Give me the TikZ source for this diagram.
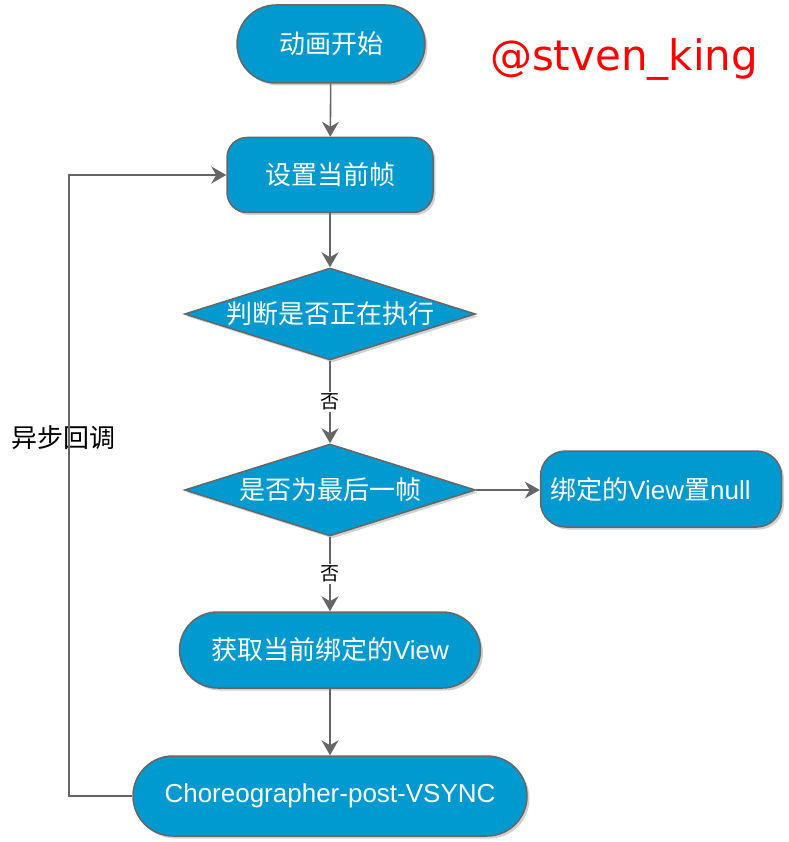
\documentclass[tikz,border=0pt]{standalone}
\usepackage{fontspec}
\setmainfont{Liberation Sans}
\newfontfamily\cjk{Noto Sans CJK SC}
\newfontfamily\wmfont{DejaVu Sans}
\usetikzlibrary{shapes.geometric,arrows.meta,shadows}
\definecolor{boxblue}{RGB}{0,153,208}
\definecolor{edgegray}{RGB}{102,102,102}
\tikzset{
  base/.style={draw=edgegray, line width=1.5pt, fill=boxblue, text=white,
    inner sep=0pt, font=\fontsize{26}{30}\selectfont,
    drop shadow={shadow xshift=2.5pt, shadow yshift=-2.5pt, opacity=0.18, fill=black}},
  stadium/.style={base, rectangle, rounded corners=#1},
  rbox/.style={base, rectangle, rounded corners=20pt},
  dia/.style={base, diamond},
  dtext/.style={text=white, inner sep=0pt, font=\fontsize{26}{30}\selectfont},
  arr/.style={draw=edgegray, line width=1.6pt, -{Stealth[length=15pt 0,width=17pt 0,inset=5pt 0]}},
  nolabel/.style={fill=white, text=black, inner sep=2pt, font=\cjk\fontsize{19}{22}\selectfont},
}
\begin{document}
\begin{tikzpicture}[x=1pt, y=-1pt]
\useasboundingbox (0,0) rectangle (788,842);
% nodes
\node[stadium=39pt, minimum width=188pt, minimum height=78pt] (n1) at (331,44) {\cjk 动画开始};
\node[rbox, minimum width=206pt, minimum height=75pt] (n2) at (330,175) {\cjk 设置当前帧};
\node[dia, minimum width=291pt, minimum height=92pt] (d1) at (330,314) {};
\node[dtext] (t1) at (d1.center) {\cjk 判断是否正在执行};
\node[dia, minimum width=291pt, minimum height=92pt] (d2) at (330,490) {};
\node[dtext] (t2) at (d2.center) {\cjk 是否为最后一帧};
\node[rbox, rounded corners=25pt, minimum width=241pt, minimum height=76pt] (n5) at (661,489) {};
\node[dtext, anchor=west] (t5) at (550,490) {{\cjk 绑定的}View{\cjk 置}null};
\node[stadium=38pt, minimum width=301pt, minimum height=76pt] (n3) at (330,650) {{\cjk 获取当前绑定的}View};
\node[stadium=40pt, minimum width=394pt, minimum height=80pt] (n4) at (330,796) {Choreographer-post-VSYNC};
% watermark
\node[text=red, inner sep=0pt, font=\wmfont\fontsize{42}{46}\selectfont] (wm) at (624,60) {@stven\_king};
% side label
\node[text=black, inner sep=0pt, font=\cjk\fontsize{26}{30}\selectfont] (async) at (63,438) {异步回调};
% connectors
\draw[arr] (n1) -- (n2);
\draw[arr] (n2) -- (d1);
\draw[arr] (d1) -- node[nolabel] (no1) {否} (d2);
\draw[arr] (d2.east) -- (n5.west |- d2.east);
\draw[arr] (d2) -- node[nolabel] (no2) {否} (n3);
\draw[arr] (n3) -- (n4);
\coordinate (loop) at (69,796);
\draw[arr] (n4.west) -- (loop) |- (n2.west);
\end{tikzpicture}
\end{document}
